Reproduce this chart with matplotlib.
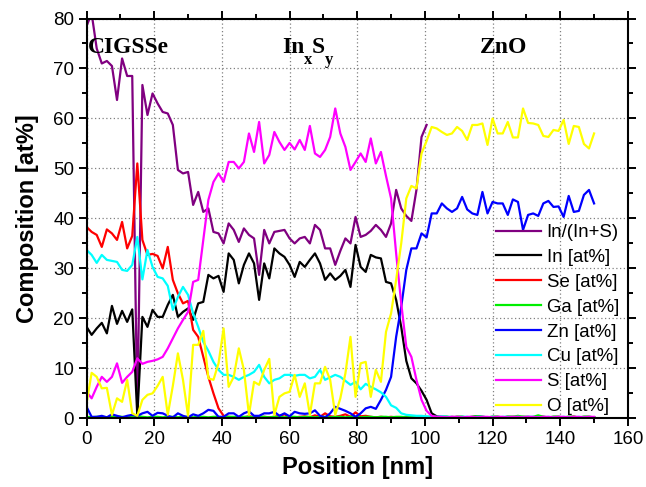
import numpy as np
import matplotlib
matplotlib.use("Agg")
import matplotlib.pyplot as plt
from matplotlib.ticker import MultipleLocator

plt.rcParams['font.family'] = 'Liberation Sans'

# depth profile, 1.5 nm bins
position = np.arange(0, 150.1, 1.5)

in_ratio = [78.5, 81.0, 74.0, 71.0, 71.5, 70.5, 63.7, 72.0, 68.5, 68.5,
            1.0, 66.7, 60.7, 65.0, 63.0, 61.3, 61.0, 58.7, 49.7, 49.0,
            49.3, 42.7, 45.3, 41.3, 42.0, 37.3, 37.0, 35.0, 39.0, 37.7,
            35.3, 38.0, 36.7, 36.0, 28.7, 37.7, 35.0, 37.3, 37.5, 37.7,
            36.0, 35.0, 36.0, 36.3, 35.0, 38.7, 37.7, 34.0, 34.0, 30.7,
            33.5, 36.0, 35.0, 40.3, 36.3, 36.7, 37.5, 38.7, 37.7, 36.3,
            39.0, 45.7, 42.0, 40.5, 39.5, 45.7, 56.3, 58.7]

indium = [18.3, 16.7, 18.0, 19.1, 17.0, 22.5, 18.9, 21.5, 19.3, 21.8,
          0.5, 20.3, 18.3, 21.7, 20.3, 20.3, 22.7, 24.7, 20.3, 21.3,
          22.0, 19.7, 23.0, 23.3, 28.7, 28.0, 28.5, 25.3, 33.0, 31.7,
          27.0, 30.7, 33.0, 31.0, 23.7, 31.0, 28.0, 34.0, 33.0, 32.3,
          30.7, 28.3, 31.3, 30.3, 31.7, 33.0, 31.0, 27.7, 29.0, 27.7,
          28.5, 29.7, 26.3, 34.7, 30.3, 29.3, 32.7, 32.2, 32.0, 27.3,
          27.0, 23.7, 18.3, 11.5, 8.0, 7.0, 5.5, 3.7, 1.0, 0.4,
          0.3, 0.3, 0.2, 0.3, 0.3, 0.2, 0.3, 0.4, 0.3, 0.2,
          0.3, 0.3, 0.2, 0.3, 0.3, 0.2, 0.3, 0.3, 0.2, 0.3,
          0.3, 0.2, 0.3, 0.3, 0.2, 0.3, 0.3, 0.2, 0.3, 0.3,
          0.2]

selenium = [38.3, 37.3, 36.7, 34.3, 37.8, 37.0, 35.7, 39.3, 34.0, 36.5,
            51.0, 35.7, 32.7, 32.9, 32.5, 30.0, 34.3, 27.7, 25.0, 23.0,
            23.5, 17.7, 16.3, 12.3, 8.3, 5.0, 2.0, 0.5, 0.3, 0.2,
            0.3, 0.2, 0.4, 0.3, 0.2, 0.3, 0.2, 0.3, 0.5, 0.8,
            0.3, 0.2, 0.3, 0.4, 0.2, 0.6, 0.3, 1.0, 0.4, 0.3,
            0.5, 0.8, 0.3, 1.2, 0.4, 0.5, 0.3, 0.2, 0.3, 0.2,
            0.3, 0.2, 0.2, 0.3, 0.2, 0.2, 0.3, 0.2, 0.2, 0.2,
            0.2, 0.2, 0.3, 0.2, 0.2, 0.2, 0.2, 0.3, 0.2, 0.2,
            0.2, 0.2, 0.2, 0.3, 0.2, 0.2, 0.2, 0.2, 0.2, 0.3,
            0.2, 0.2, 0.2, 0.2, 0.2, 0.2, 0.3, 0.2, 0.2, 0.2,
            0.2]

gallium = [0.3, 0.2, 0.3, 0.3, 0.2, 0.3, 0.4, 0.3, 0.2, 0.3,
           0.5, 0.3, 0.2, 0.3, 0.3, 0.2, 0.3, 0.3, 0.2, 0.3,
           0.3, 0.2, 0.3, 0.3, 0.2, 0.3, 0.3, 0.2, 0.3, 0.3,
           0.2, 0.3, 0.3, 0.2, 0.3, 0.3, 0.2, 0.3, 0.3, 0.2,
           0.3, 0.3, 0.2, 0.3, 0.3, 0.2, 0.3, 0.3, 0.2, 0.3,
           0.3, 0.2, 0.3, 0.3, 0.2, 0.3, 0.3, 0.2, 0.3, 0.3,
           0.2, 0.3, 0.3, 0.2, 0.3, 0.3, 0.2, 0.3, 0.3, 0.2,
           0.3, 0.3, 0.2, 0.3, 0.3, 0.2, 0.3, 0.4, 0.3, 0.2,
           0.3, 0.3, 0.2, 0.3, 0.3, 0.5, 0.3, 0.2, 0.3, 0.6,
           0.3, 0.2, 0.3, 0.3, 0.2, 0.3, 0.3, 0.2, 0.3, 0.3,
           0.2]

zinc = [2.3, 0.3, 0.3, 0.5, 0.2, 0.8, 0.5, 0.2, 0.5, 0.7,
        0.5, 1.0, 1.3, 0.5, 1.1, 1.0, 0.5, 0.2, 1.0, 0.5,
        0.2, 0.8, 0.5, 1.0, 1.7, 1.5, 0.3, 0.3, 1.0, 1.0,
        0.3, 1.0, 1.4, 0.5, 0.5, 1.0, 1.0, 1.3, 0.5, 1.0,
        0.4, 1.3, 1.0, 0.9, 1.0, 1.6, 0.5, 0.2, 1.0, 2.3,
        1.9, 1.5, 1.0, 0.3, 1.0, 2.0, 2.3, 1.9, 3.7, 5.7,
        8.3, 16.3, 22.3, 29.7, 34.0, 34.0, 37.0, 36.2, 41.0, 41.0,
        43.0, 42.0, 41.3, 42.0, 44.3, 41.8, 41.0, 40.7, 45.3, 41.0,
        43.3, 43.0, 43.0, 40.7, 43.8, 43.3, 37.7, 40.7, 41.0, 40.5,
        43.0, 43.5, 42.3, 42.4, 40.3, 44.5, 41.3, 41.5, 44.7, 45.7,
        43.0]

copper = [33.7, 32.7, 31.1, 32.7, 31.7, 31.5, 31.3, 29.7, 29.5, 30.7,
          36.3, 27.8, 33.7, 30.3, 28.3, 28.0, 26.5, 21.7, 24.3, 26.3,
          24.7, 21.0, 18.3, 15.3, 13.5, 11.3, 9.7, 8.7, 8.7, 8.3,
          7.7, 8.3, 8.7, 9.3, 10.7, 8.3, 7.0, 7.7, 8.0, 8.7,
          8.7, 8.5, 8.7, 8.7, 8.0, 8.3, 9.7, 7.7, 8.2, 8.7,
          8.3, 7.5, 6.7, 7.3, 5.8, 6.9, 6.3, 5.8, 5.2, 4.3,
          2.6, 2.1, 1.0, 0.7, 0.6, 0.5, 0.5, 0.4, 0.3, 0.3,
          0.4, 0.3, 0.3, 0.2, 0.3, 0.3, 0.2, 0.3, 0.3, 0.2,
          0.3, 0.2, 0.3, 0.3, 0.2, 0.3, 0.2, 0.3, 0.3, 0.2,
          0.2, 0.3, 0.2, 0.2, 0.3, 0.2, 0.2, 0.3, 0.2, 0.2,
          0.2]

sulfur = [5.3, 4.0, 6.3, 8.3, 7.3, 8.3, 11.0, 7.1, 8.3, 9.3,
          12.0, 10.9, 11.3, 11.5, 11.8, 12.3, 14.0, 16.0, 18.0, 19.7,
          21.3, 27.3, 27.7, 35.7, 43.7, 47.3, 49.0, 47.3, 51.3, 51.3,
          50.0, 51.3, 57.0, 53.3, 59.3, 51.0, 52.7, 57.3, 55.3, 53.7,
          55.1, 53.8, 55.7, 53.7, 58.5, 53.0, 52.3, 53.7, 56.3, 62.0,
          57.0, 54.3, 49.7, 51.3, 53.0, 51.3, 56.0, 51.0, 53.3, 48.5,
          44.0, 33.0, 23.0, 14.3, 12.3, 7.7, 3.7, 1.5, 0.5, 0.3,
          0.3, 0.2, 0.3, 0.3, 0.2, 0.3, 0.3, 0.2, 0.3, 0.3,
          0.2, 0.3, 0.3, 0.2, 0.3, 0.3, 0.2, 0.3, 0.3, 0.2,
          0.3, 0.3, 0.2, 0.3, 0.3, 0.2, 0.3, 0.3, 0.2, 0.3,
          0.3]

oxygen = [3.0, 9.1, 8.3, 6.0, 6.1, 0.7, 4.0, 3.3, 7.7, 1.0,
          0.5, 3.7, 4.7, 5.0, 6.5, 8.3, 0.7, 6.5, 13.0, 7.7,
          0.5, 14.7, 14.7, 17.5, 8.0, 7.7, 11.0, 18.0, 6.3, 8.3,
          14.0, 9.7, 0.7, 7.3, 6.7, 9.7, 11.9, 0.7, 4.3, 5.0,
          5.3, 8.7, 4.3, 7.0, 0.7, 7.0, 7.0, 10.3, 7.7, 0.7,
          4.0, 9.0, 16.3, 4.3, 11.0, 11.3, 4.3, 9.7, 7.3, 17.3,
          21.0, 27.7, 35.0, 44.0, 46.5, 46.0, 53.0, 55.5, 58.3, 58.0,
          57.3, 56.7, 57.0, 58.3, 57.5, 55.7, 58.7, 58.7, 59.0, 54.7,
          60.0, 57.0, 57.0, 59.3, 56.2, 56.2, 62.0, 59.1, 59.0, 58.7,
          56.5, 56.3, 57.7, 57.5, 59.7, 54.9, 58.5, 58.3, 54.9, 54.0,
          57.0]

series = [
    (in_ratio, '#800080', 'In/(In+S)'),
    (indium, '#000000', 'In [at%]'),
    (selenium, '#ff0000', 'Se [at%]'),
    (gallium, '#00ee00', 'Ga [at%]'),
    (zinc, '#0000ff', 'Zn [at%]'),
    (copper, '#00ffff', 'Cu [at%]'),
    (sulfur, '#ff00ff', 'S [at%]'),
    (oxygen, '#ffff00', 'O [at%]'),
]

fig = plt.figure(figsize=(6.46, 4.87), dpi=100)
ax = fig.add_axes([0.134, 0.141, 0.838, 0.821])

for vals, col, lab in series:
    ax.plot(position[:len(vals)], vals, color=col, lw=1.6, label=lab)

ax.set_xlim(0, 160)
ax.set_ylim(0, 80)
ax.xaxis.set_major_locator(MultipleLocator(20))
ax.xaxis.set_minor_locator(MultipleLocator(10))
ax.yaxis.set_major_locator(MultipleLocator(10))
ax.yaxis.set_minor_locator(MultipleLocator(5))
ax.tick_params(which='both', direction='out', top=True, right=True,
               labelsize=13.5, width=1.4)
ax.tick_params(which='major', length=6, pad=3)
ax.tick_params(which='minor', length=3.5)
for sp in ax.spines.values():
    sp.set_linewidth(1.5)
ax.grid(which='major', color='#808080', linestyle=(0, (1, 2)), linewidth=0.9)
ax.set_axisbelow(True)

ax.set_xlabel('Position [nm]', fontsize=17, fontweight='bold', labelpad=6)
ax.set_ylabel('Composition [at%]', fontsize=17, fontweight='bold', labelpad=10)

# layer names
layer_font = dict(family='Liberation Serif', fontweight='bold',
                  va='baseline', ha='left')
ax.text(0.5, 73, 'CIGSSe', fontsize=17, **layer_font)
ax.text(57.7, 73, 'In', fontsize=17, **layer_font)
ax.text(64.3, 70.8, 'x', fontsize=12, **layer_font)
ax.text(66.6, 73, 'S', fontsize=17, **layer_font)
ax.text(70.5, 70.8, 'y', fontsize=12, **layer_font)
ax.text(116.2, 73, 'ZnO', fontsize=17, **layer_font)

ax.legend(loc='center left', bbox_to_anchor=(0.757, 0.247), frameon=False,
          fontsize=13.4, handlelength=2.4, handletextpad=0.3,
          labelspacing=0.42, borderpad=0, borderaxespad=0)

fig.savefig('out.png', dpi=100)
